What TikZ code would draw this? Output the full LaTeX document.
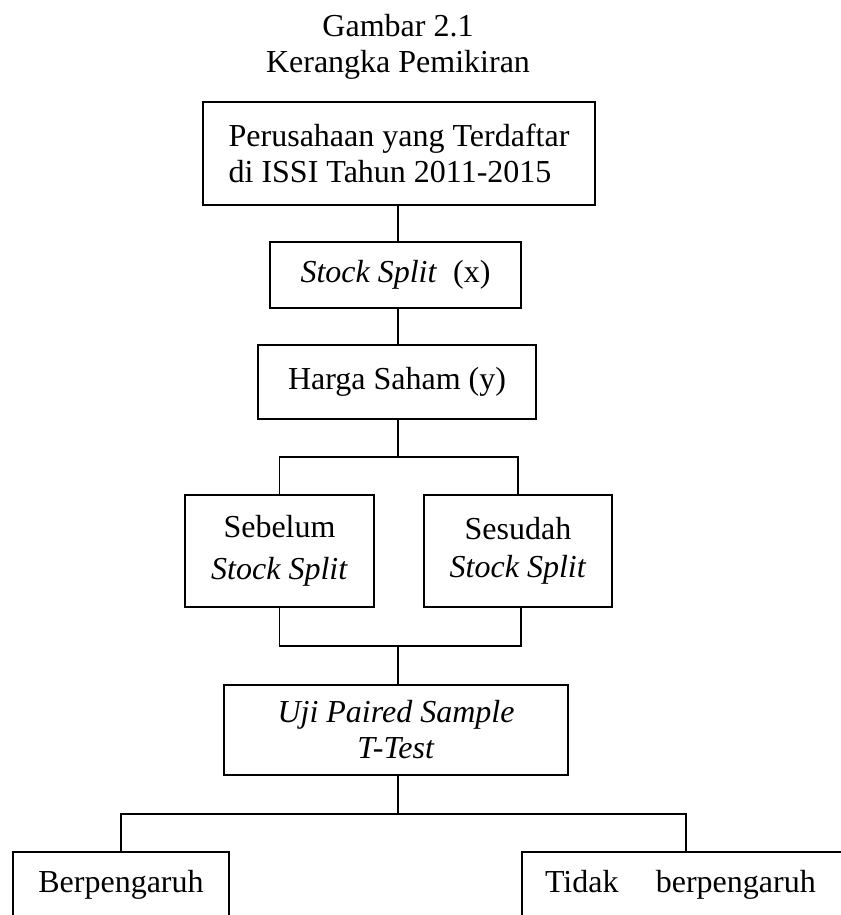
\documentclass[tikz,border=0pt]{standalone}
\usepackage{fontspec}
\setmainfont{Liberation Serif}
\begin{document}
\begin{tikzpicture}[x=0.75pt,y=-0.75pt,line width=1.3pt,
  txt/.style={inner sep=0pt,outer sep=0pt,font=\fontsize{24}{27}\selectfont},
  box/.style={txt,draw,align=center},
  conn/.style={line width=1.3pt}]
\useasboundingbox (0,0) rectangle (841,915);
\clip (0,0) rectangle (841,915);
% title
\node[txt,anchor=base] (t1) at (398,36) {Gambar 2.1};
\node[txt,anchor=base] (t2) at (398,72) {Kerangka Pemikiran};
% boxes
\node[box,align=left,minimum width=294pt,minimum height=77.25pt] (top) at (399,153.5)
  {Perusahaan yang Terdaftar\\di ISSI Tahun 2011-2015};
\node[box,minimum width=188.25pt,minimum height=49.5pt] (ss) at (395.5,275)
  {\textit{Stock Split}\ \ (x)};
\node[box,minimum width=208.5pt,minimum height=55.5pt] (harga) at (397,382)
  {Harga Saham (y)};
\node[box,minimum width=141.75pt,minimum height=84pt,font=\fontsize{24}{31.5}\selectfont] (seb) at (279.5,551)
  {Sebelum\\\textit{Stock Split}};
\node[box,minimum width=141pt,minimum height=84pt,font=\fontsize{24}{28.5}\selectfont] (ses) at (518,551)
  {Sesudah\\\textit{Stock Split}};
\node[box,minimum width=258pt,minimum height=67.5pt] (uji) at (396,730)
  {\textit{Uji Paired Sample}\\\textit{T-Test}};
\node[txt,minimum width=162pt,minimum height=48.75pt] (b1) at (121,884.5) {Berpengaruh};
\node[txt,minimum width=246pt,minimum height=48.75pt,text width=211.5pt,align=left] (b2) at (686,884.5)
  {Tidak\hspace{28pt}berpengaruh};
\draw[conn] (b1.south west) -- (b1.north west) -- (b1.north east) -- (b1.south east);
\draw[conn] (b2.south west) -- (b2.north west) -- (b2.north east) -- (b2.south east);
% connectors
\coordinate (ax) at (398,0);
\coordinate (f1) at (398,457);
\coordinate (f2) at (398,646);
\coordinate (f3) at (398,814);
\draw[conn] (top.south -| ax) -- (ss.north -| ax);
\draw[conn] (ss.south -| ax) -- (harga.north -| ax);
\draw[conn] (harga.south -| ax) -- (f1);
\draw[conn] (seb.north) |- (f1) -| (ses.north);
\draw[conn] (seb.south) |- (f2) -| ([xshift=2.25pt]ses.south);
\draw[conn] (f2) -- (uji.north -| ax);
\draw[conn] (uji.south -| ax) -- (f3);
\draw[conn] (b1.north) |- (f3) -| (b2.north);
\end{tikzpicture}
\end{document}
